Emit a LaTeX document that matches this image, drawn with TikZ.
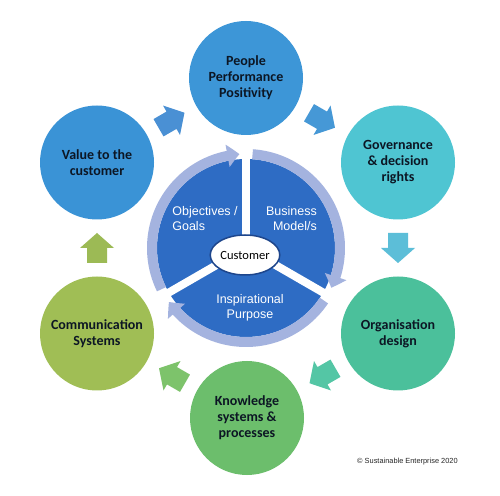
\documentclass[tikz,border=0pt]{standalone}
\usepackage{fontspec}
\setmainfont{Liberation Sans}
\newfontfamily\carlito{Carlito}
\usetikzlibrary{calc,arrows.meta,bending,shapes.geometric}
\definecolor{cPeople}{RGB}{61,150,215}
\definecolor{cValue}{RGB}{58,147,214}
\definecolor{cGov}{RGB}{79,197,210}
\definecolor{cOrg}{RGB}{75,192,155}
\definecolor{cKnow}{RGB}{108,190,108}
\definecolor{cComm}{RGB}{160,190,85}
\definecolor{aVP}{RGB}{74,144,212}
\definecolor{aPG}{RGB}{70,152,214}
\definecolor{aGO}{RGB}{92,190,216}
\definecolor{aOK}{RGB}{84,198,165}
\definecolor{aKC}{RGB}{125,195,107}
\definecolor{aCV}{RGB}{156,186,85}
\definecolor{pie}{RGB}{46,108,196}
\definecolor{ring}{RGB}{164,179,223}
\definecolor{rim}{RGB}{30,70,140}
\definecolor{textdark}{RGB}{12,22,36}
\newcommand\blockarrowat[4]{%
  \begin{scope}[shift={($(#1)!0.5!(#2)$)}, rotate=#3]
    \fill[#4] (-15,-10) -- (0,-10) -- (0,-17) -- (15,0) -- (0,17) -- (0,10) -- (-15,10) -- cycle;
  \end{scope}}
\begin{document}
\begin{tikzpicture}[x=1pt,y=1pt,
  hub/.style={circle, minimum size=114pt, inner sep=0pt, align=center,
    font=\carlito\bfseries\fontsize{14}{16}\selectfont, text=textdark},
  pietext/.style={text=white, font=\fontsize{12.5}{15}\selectfont, inner sep=0pt},
  ringarrow/.style={draw=ring, line width=10pt, -{Triangle[width=22pt,length=12pt,bend]}},
  gapline/.style={draw=white, line width=8pt}]
\useasboundingbox (0,0) rectangle (500,495);
\fill[white] (0,0) rectangle (500,495);
% outer circles
\node[hub, fill=cPeople] (people) at (246,417) {People\\Performance\\Positivity};
\node[hub, fill=cGov] (gov) at (398,332.5) {Governance\\\& decision\\rights};
\node[hub, fill=cOrg] (org) at (398,161.5) {Organisation\\design};
\node[hub, fill=cKnow] (know) at (247,77) {Knowledge\\systems \&\\processes};
\node[hub, fill=cComm] (comm) at (97,161.5) {Communication\\Systems};
\node[hub, fill=cValue] (value) at (97,332.5) {Value to the\\customer};
% block arrows between circles
\blockarrowat{value}{people}{30}{aVP}
\blockarrowat{people}{gov}{-30}{aPG}
\blockarrowat{gov}{org}{-90}{aGO}
\blockarrowat{org}{know}{210}{aOK}
\blockarrowat{know}{comm}{150}{aKC}
\blockarrowat{comm}{value}{90}{aCV}
% wheel
\node[circle, fill=pie, minimum size=178pt, inner sep=0pt] (wheel) at (246,247) {};
\draw[gapline] (wheel.center) -- ([shift={(90:101)}]wheel.center);
\draw[gapline] (wheel.center) -- ([shift={(210:101)}]wheel.center);
\draw[gapline] (wheel.center) -- ([shift={(330:101)}]wheel.center);
\draw[ringarrow] ([shift={(206:94)}]wheel.center) arc[start angle=206, end angle=94, radius=94];
\draw[ringarrow] ([shift={(86:94)}]wheel.center) arc[start angle=86, end angle=-25, radius=94];
\draw[ringarrow] ([shift={(-34:94)}]wheel.center) arc[start angle=-34, end angle=-145, radius=94];
\node[ellipse, draw=rim, line width=1.5pt, fill=white, minimum width=66pt, minimum height=40pt, inner sep=0pt,
  font=\carlito\fontsize{12.5}{15}\selectfont, text=black] (cust) at (245,240) {Customer};
\node[pietext, align=left] (obj) at (205,276.5) {Objectives /\\Goals};
\node[pietext, align=right, anchor=east] (bus) at (317,276.5) {Business\\Model/s};
\node[pietext, align=center] (insp) at (250,187) {Inspirational\\Purpose};
\node[anchor=west, inner sep=0pt, font=\fontsize{7.4}{9}\selectfont, text=black!85] (copy) at (357,33) {© Sustainable Enterprise 2020};
\end{tikzpicture}
\end{document}
